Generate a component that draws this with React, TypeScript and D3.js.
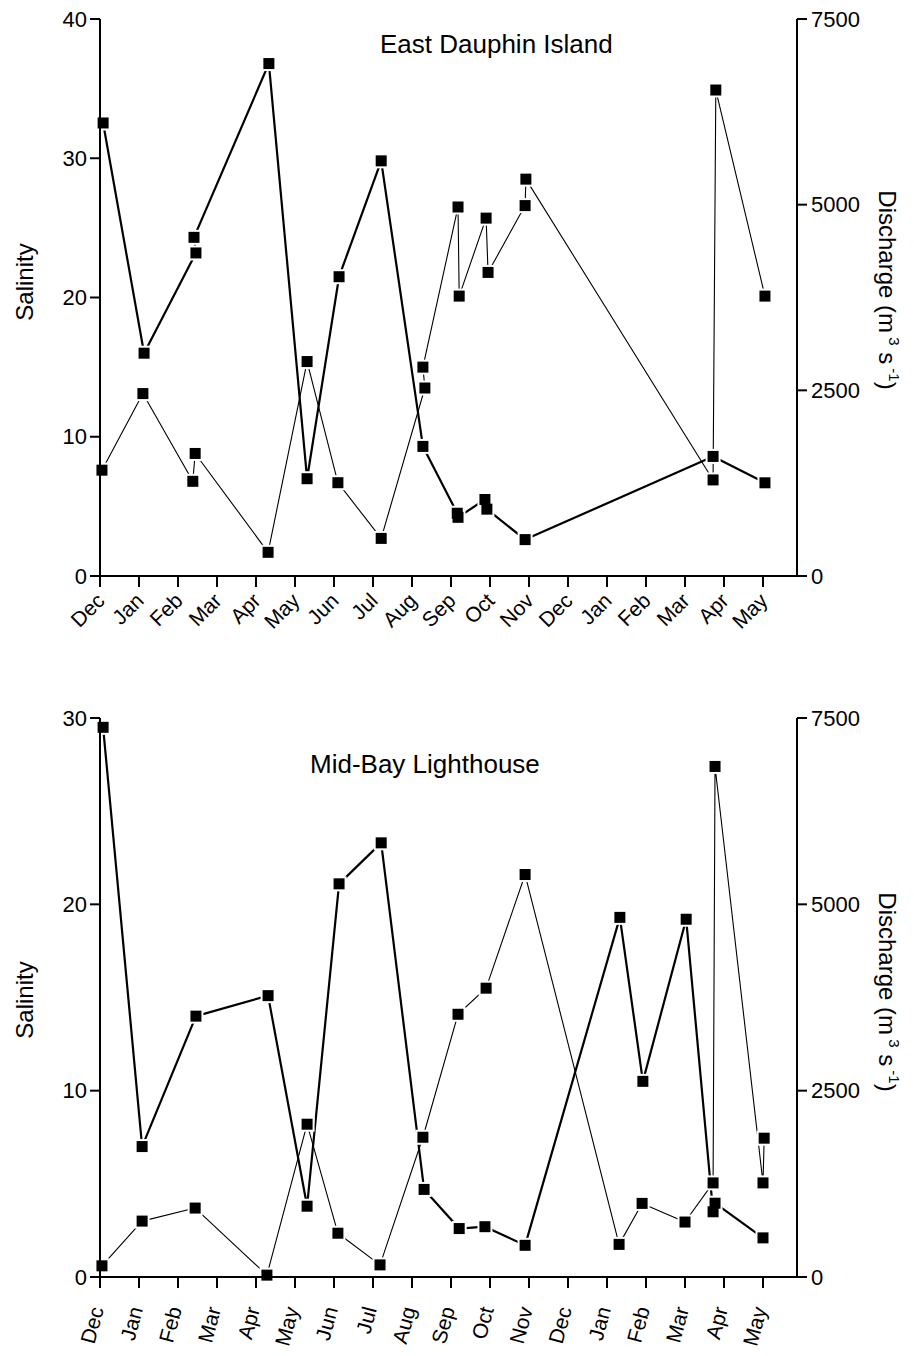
import React from 'react';
import * as d3 from 'd3';

const months = ['Dec', 'Jan', 'Feb', 'Mar', 'Apr', 'May', 'Jun', 'Jul', 'Aug', 'Sep', 'Oct', 'Nov', 'Dec', 'Jan', 'Feb', 'Mar', 'Apr', 'May'];

// East Dauphin Island: sampling time (months since Dec 1) and salinity
const edSalT = [0.05, 1.10, 2.38, 2.44, 4.31, 5.31, 6.10, 7.21, 8.33, 8.28, 9.18, 9.21, 9.90, 9.95, 10.90, 10.92, 15.72, 15.79, 17.05];
const edSal = [7.6, 13.1, 6.8, 8.8, 1.7, 15.4, 6.7, 2.7, 13.5, 15.0, 26.5, 20.1, 25.7, 21.8, 26.6, 28.5, 6.9, 34.9, 20.1];
// East Dauphin Island: discharge (m3 s-1)
const edDisT = [0.08, 1.13, 2.46, 2.41, 4.33, 5.31, 6.13, 7.21, 8.28, 9.16, 9.18, 9.87, 9.92, 10.90, 15.72, 17.05];
const edDis = [6100, 3000, 4350, 4560, 6900, 1310, 4030, 5590, 1745, 845, 790, 1030, 900, 490, 1610, 1255];

// Mid-Bay Lighthouse: salinity
const mbSalT = [0.05, 1.08, 2.44, 4.28, 5.31, 6.10, 7.18, 8.28, 9.18, 9.90, 10.90, 13.31, 13.90, 15.00, 15.72, 15.77, 17.00, 17.03];
const mbSal = [0.6, 3.0, 3.7, 0.1, 8.2, 2.35, 0.65, 7.5, 14.1, 15.5, 21.6, 1.75, 3.95, 2.95, 5.05, 27.4, 5.05, 7.45];
// Mid-Bay Lighthouse: discharge
const mbDisT = [0.08, 1.08, 2.46, 4.31, 5.31, 6.13, 7.21, 8.31, 9.21, 9.87, 10.90, 13.33, 13.92, 15.03, 15.72, 15.77, 17.0];
const mbDis = [7375, 1750, 3500, 3775, 950, 5275, 5825, 1175, 650, 675, 425, 4825, 2625, 4800, 875, 990, 525];

const edSalTicks = [0, 10, 20, 30, 40];
const mbSalTicks = [0, 10, 20, 30];
const disTicks = [0, 2500, 5000, 7500];

const FONT = "'Liberation Sans', Arial, Helvetica, sans-serif";

type PanelProps = {
  top: number;
  bottom: number;
  salMax: number;
  salTicks: number[];
  title: string;
  titleX: number;
  titleY: number;
  salT: number[];
  sal: number[];
  disT: number[];
  dis: number[];
  labelRot: number;
  labelDy: number;
  labelDx: number;
  salLabelY: number;
  disLabelY: number;
};

function Panel(p: PanelProps) {
  const left = 100;
  const right = 797;
  const x = d3.scaleLinear().domain([0, (right - left) / 39]).range([left, right]);
  const yL = d3.scaleLinear().domain([0, p.salMax]).range([p.bottom, p.top]);
  const yR = d3.scaleLinear().domain([0, 7500]).range([p.bottom, p.top]);

  const salPts: [number, number][] = p.salT.map((t, i) => [x(t), yL(p.sal[i])]);
  const disPts: [number, number][] = p.disT.map((t, i) => [x(t), yR(p.dis[i])]);
  const line = d3.line();
  const ms = 11;
  const halo = 15;
  const allPts = [...salPts, ...disPts];

  return (
    <g fontFamily={FONT}>
      <path d={line(disPts) || ''} fill="none" stroke="#000" strokeWidth={2.2} strokeLinejoin="round" />
      <path d={line(salPts) || ''} fill="none" stroke="#000" strokeWidth={1.1} strokeLinejoin="round" />
      {allPts.map((q, i) => (
        <rect key={'h' + i} x={q[0] - halo / 2} y={q[1] - halo / 2} width={halo} height={halo} fill="#fff" />
      ))}
      {allPts.map((q, i) => (
        <rect key={'m' + i} x={q[0] - ms / 2} y={q[1] - ms / 2} width={ms} height={ms} fill="#000" />
      ))}

      {/* axes */}
      <line x1={left} x2={left} y1={p.top} y2={p.bottom} stroke="#000" strokeWidth={2} />
      <line x1={right} x2={right} y1={p.top} y2={p.bottom} stroke="#000" strokeWidth={2} />
      <line x1={left} x2={right} y1={p.bottom} y2={p.bottom} stroke="#000" strokeWidth={2} />

      {p.salTicks.map((v) => (
        <g key={'l' + v}>
          <line x1={left - 10} x2={left} y1={yL(v)} y2={yL(v)} stroke="#000" strokeWidth={2} />
          <text x={left - 13} y={yL(v)} dy="0.35em" textAnchor="end" fontSize={22}>{v}</text>
        </g>
      ))}
      {disTicks.map((v) => (
        <g key={'r' + v}>
          <line x1={right} x2={right + 10} y1={yR(v)} y2={yR(v)} stroke="#000" strokeWidth={2} />
          <text x={right + 14} y={yR(v)} dy="0.35em" textAnchor="start" fontSize={22}>{v}</text>
        </g>
      ))}
      {months.map((m, i) => (
        <g key={'x' + i}>
          <line x1={x(i)} x2={x(i)} y1={p.bottom} y2={p.bottom + 11} stroke="#000" strokeWidth={2} />
          <text
            transform={`translate(${x(i) + p.labelDx},${p.bottom + p.labelDy}) rotate(${p.labelRot})`}
            textAnchor="end"
            fontSize={21}
          >
            {m}
          </text>
        </g>
      ))}

      <text x={p.titleX} y={p.titleY} fontSize={26}>{p.title}</text>
      <text transform={`translate(33,${p.salLabelY}) rotate(-90)`} textAnchor="middle" fontSize={24}>Salinity</text>
      <text transform={`translate(879,${p.disLabelY}) rotate(90)`} textAnchor="middle" fontSize={24}>
        Discharge (m<tspan dy={-10} fontSize={15}> 3</tspan>
        <tspan dy={10}> s</tspan>
        <tspan dy={-10} fontSize={15}> -1</tspan>
        <tspan dy={10}>)</tspan>
      </text>
    </g>
  );
}

export default function App() {
  return (
    <svg
      width={914}
      height={1356}
      viewBox="0 0 914 1356"
      style={{ position: 'absolute', left: 0, top: 0, background: '#fff' }}
    >
      <rect width={914} height={1356} fill="#fff" />
      <Panel
        top={19}
        bottom={576}
        salMax={40}
        salTicks={edSalTicks}
        title="East Dauphin Island"
        titleX={380}
        titleY={53}
        salT={edSalT}
        sal={edSal}
        disT={edDisT}
        dis={edDis}
        labelRot={-45}
        labelDx={6}
        labelDy={26}
        salLabelY={282}
        disLabelY={290}
      />
      <Panel
        top={718}
        bottom={1277}
        salMax={30}
        salTicks={mbSalTicks}
        title="Mid-Bay Lighthouse"
        titleX={310}
        titleY={773}
        salT={mbSalT}
        sal={mbSal}
        disT={mbDisT}
        dis={mbDis}
        labelRot={-75}
        labelDx={4}
        labelDy={32}
        salLabelY={1000}
        disLabelY={992}
      />
    </svg>
  );
}
